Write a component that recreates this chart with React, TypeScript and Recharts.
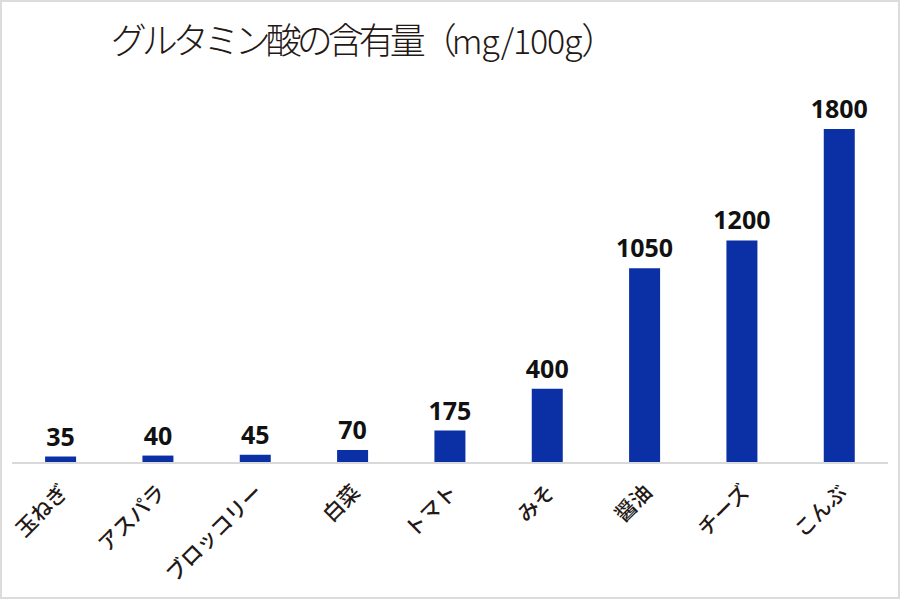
import React from "react";
import { BarChart, Bar, XAxis, YAxis, LabelList } from "recharts";

const foods = ["玉ねぎ", "アスパラ", "ブロッコリー", "白菜", "トマト", "みそ", "醤油", "チーズ", "こんぶ"];
const glutamate = [35, 40, 45, 70, 175, 400, 1050, 1200, 1800];

const data = foods.map((name, i) => ({ name, value: glutamate[i] }));

const FONT = '"Noto Sans CJK JP", "Noto Sans", sans-serif';

function FoodTick(props: any) {
  const { x, y, payload } = props;
  return (
    <g transform={`translate(${x + 3},${y + 17})`}>
      <text
        transform="rotate(-45)"
        textAnchor="end"
        dy={8}
        fontSize={21}
        fontWeight={500}
        fill="#231815"
        fontFamily={FONT}
      >
        {payload.value}
      </text>
    </g>
  );
}

export default function App() {
  return (
    <div style={{ position: "absolute", left: 0, top: 0, width: 900, height: 599, background: "#fff" }}>
      <div
        style={{
          position: "absolute",
          inset: 0,
          border: "2px solid #dcdcdc",
          boxSizing: "border-box",
          pointerEvents: "none",
        }}
      />
      <div
        style={{
          position: "absolute",
          left: 0,
          top: 12,
          width: 728,
          textAlign: "center",
          fontFamily: FONT,
          fontWeight: 300,
          fontSize: 36,
          color: "#231815",
          lineHeight: "52px",
          whiteSpace: "nowrap",
        }}
      >
        <span style={{ letterSpacing: -5 }}>グルタミン酸の含有量（</span>
        <span style={{ fontSize: 34, letterSpacing: -1.2 }}>mg/100g</span>
        <span>）</span>
      </div>
      <BarChart
        width={900}
        height={599}
        data={data}
        margin={{ top: 92, right: 12, bottom: 0, left: 12 }}
        barCategoryGap="34%"
      >
        <XAxis
          dataKey="name"
          height={136}
          interval={0}
          tickLine={false}
          axisLine={{ stroke: "#d9d9d9", strokeWidth: 2 }}
          tick={<FoodTick />}
        />
        <YAxis hide domain={[0, 2000]} />
        <Bar dataKey="value" fill="#0b2fa5" isAnimationActive={false}>
          <LabelList
            dataKey="value"
            position="top"
            offset={11}
            fill="#111"
            fontSize={25}
            fontWeight={700}
            fontFamily='"Open Sans", sans-serif'
          />
        </Bar>
      </BarChart>
    </div>
  );
}
